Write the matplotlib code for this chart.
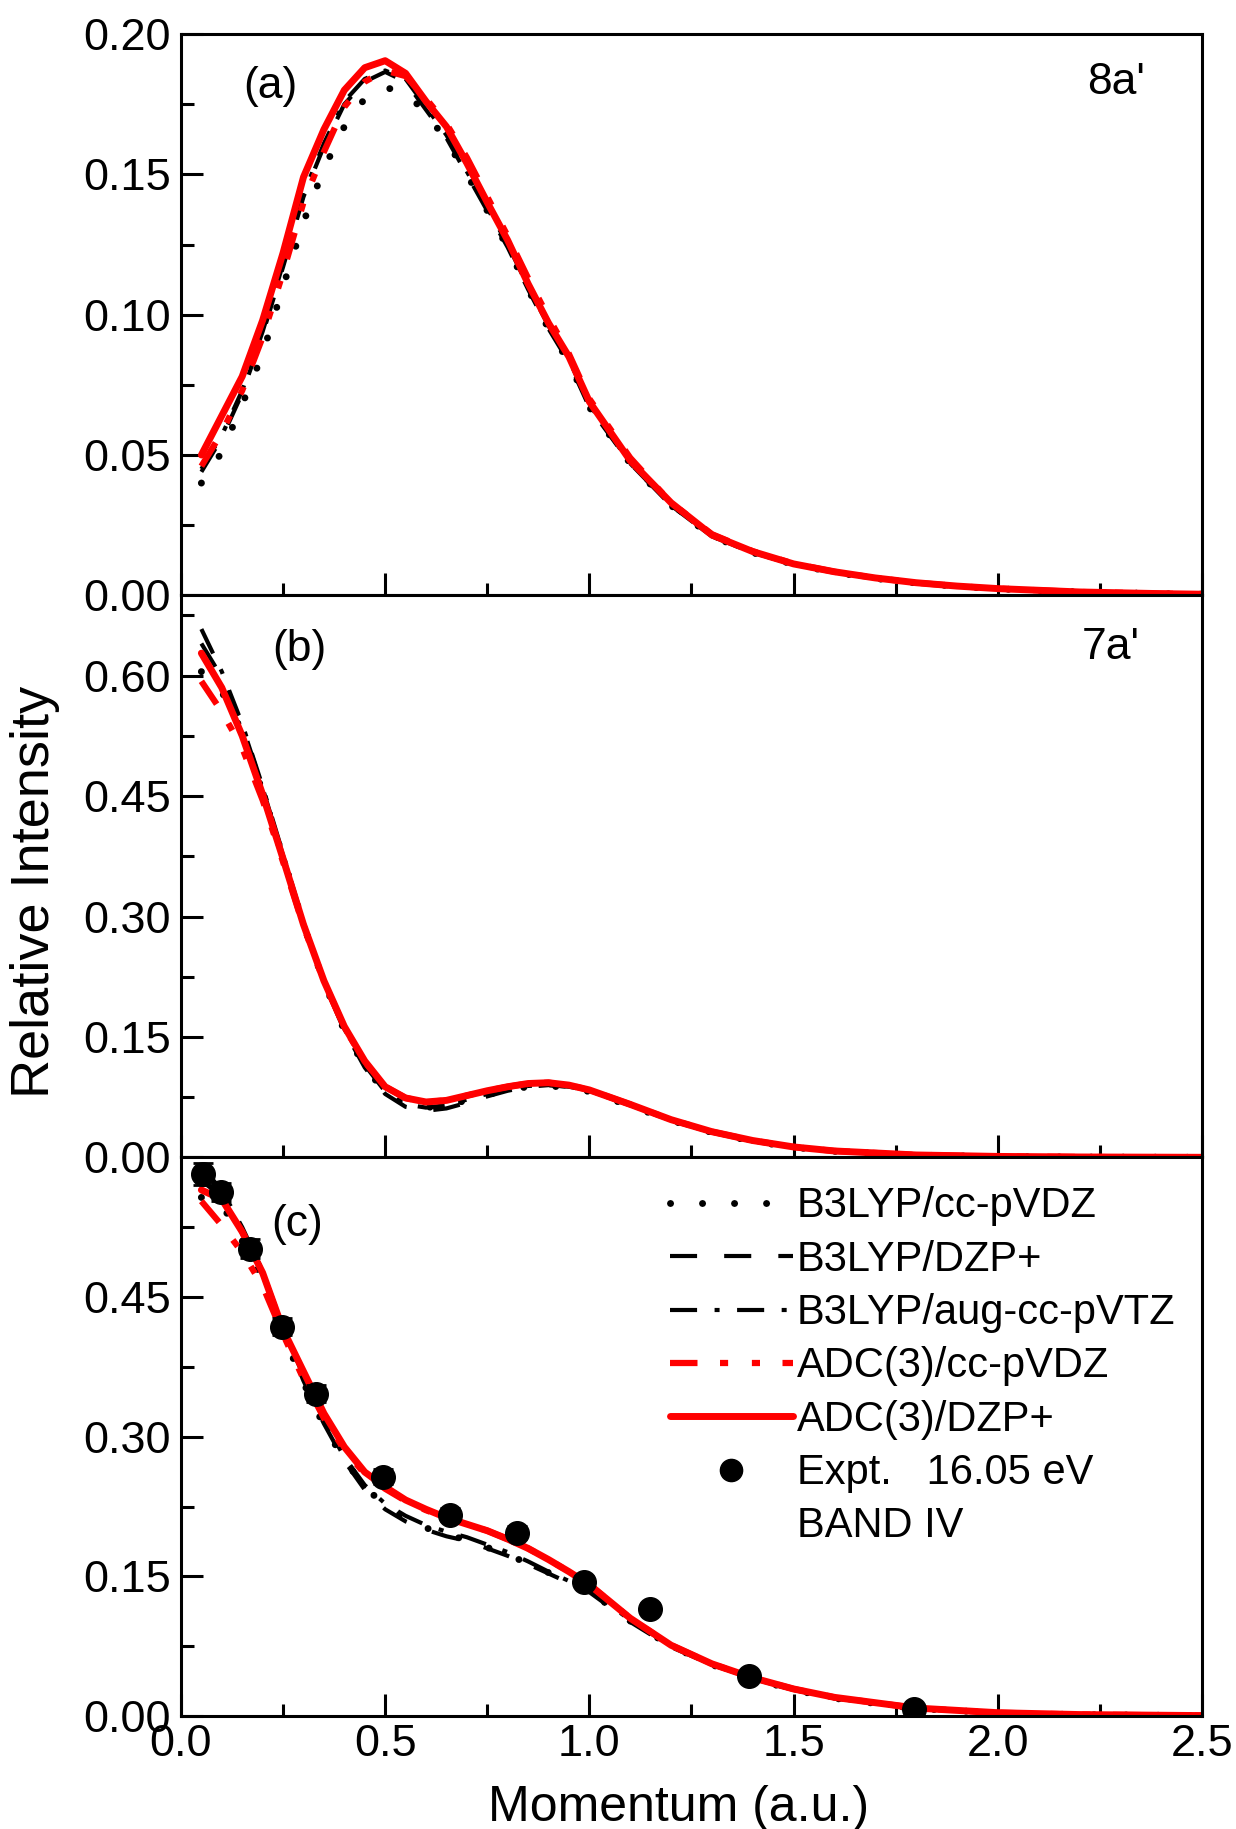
import numpy as np
import matplotlib
matplotlib.use("Agg")
import matplotlib.pyplot as plt
from matplotlib.ticker import MultipleLocator, FormatStrFormatter, FixedLocator
from matplotlib.lines import Line2D

plt.rcParams['font.family'] = ['Liberation Sans', 'DejaVu Sans']

# ---- panel (a) 8a' ----
xa = [0.05, 0.1, 0.15, 0.2, 0.25, 0.3, 0.35, 0.4, 0.45, 0.5, 0.55, 0.6, 0.65, 0.7, 0.75,
      0.8, 0.85, 0.9, 0.95, 1.0, 1.1, 1.2, 1.3, 1.4, 1.5, 1.6, 1.7, 1.8, 1.9, 2.0, 2.2, 2.4, 2.5]
a_b3lyp_vdz = [0.040, 0.051, 0.068, 0.086, 0.110, 0.133, 0.152, 0.167, 0.177, 0.181, 0.179, 0.172, 0.162,
               0.150, 0.137, 0.124, 0.109, 0.095, 0.083, 0.067, 0.047, 0.032, 0.021, 0.0152, 0.011,
               0.0082, 0.006, 0.0044, 0.0032, 0.0023, 0.0012, 0.0006, 0.0004]
a_b3lyp_dzp = [0.044, 0.056, 0.072, 0.093, 0.117, 0.142, 0.160, 0.175, 0.183, 0.1865, 0.183, 0.173, 0.163,
               0.150, 0.137, 0.124, 0.109, 0.095, 0.083, 0.067, 0.047, 0.032, 0.021, 0.0152, 0.011,
               0.0082, 0.006, 0.0044, 0.0032, 0.0023, 0.0012, 0.0006, 0.0004]
a_b3lyp_aug = [0.045, 0.057, 0.073, 0.094, 0.118, 0.143, 0.161, 0.176, 0.184, 0.187, 0.184, 0.174, 0.164,
               0.151, 0.138, 0.125, 0.110, 0.096, 0.084, 0.068, 0.047, 0.032, 0.021, 0.0152, 0.011,
               0.0082, 0.006, 0.0044, 0.0032, 0.0023, 0.0012, 0.0006, 0.0004]
a_adc_vdz = [0.046, 0.058, 0.073, 0.092, 0.115, 0.140, 0.158, 0.174, 0.183, 0.187, 0.185, 0.177, 0.168,
             0.156, 0.142, 0.128, 0.113, 0.099, 0.086, 0.070, 0.049, 0.033, 0.0218, 0.0157, 0.0113,
             0.0084, 0.0062, 0.0045, 0.0033, 0.0024, 0.0012, 0.0006, 0.0004]
a_adc_dzp = [0.050, 0.064, 0.078, 0.098, 0.122, 0.149, 0.166, 0.180, 0.188, 0.1905, 0.186, 0.176, 0.167,
             0.154, 0.140, 0.1265, 0.111, 0.097, 0.085, 0.069, 0.048, 0.033, 0.0215, 0.0156, 0.0112,
             0.0084, 0.0062, 0.0045, 0.0033, 0.0024, 0.0012, 0.0006, 0.0004]

# ---- panel (b) 7a' ----
xb = [0.05, 0.1, 0.15, 0.2, 0.25, 0.3, 0.35, 0.4, 0.45, 0.5, 0.55, 0.6, 0.65, 0.7, 0.75, 0.8,
      0.85, 0.9, 0.95, 1.0, 1.1, 1.2, 1.3, 1.4, 1.5, 1.6, 1.8, 2.0, 2.2, 2.5]
b_b3lyp_vdz = [0.605, 0.580, 0.530, 0.455, 0.374, 0.290, 0.218, 0.158, 0.113, 0.081, 0.066, 0.062, 0.065,
               0.071, 0.078, 0.084, 0.088, 0.089, 0.087, 0.082, 0.064, 0.046, 0.031, 0.020, 0.0125,
               0.0075, 0.0028, 0.0011, 0.0004, 0.0001]
b_b3lyp_dzp = [0.640, 0.598, 0.538, 0.460, 0.376, 0.291, 0.218, 0.158, 0.112, 0.079, 0.063, 0.058, 0.061,
               0.068, 0.076, 0.083, 0.088, 0.090, 0.088, 0.083, 0.065, 0.046, 0.031, 0.020, 0.0125,
               0.0075, 0.0028, 0.0011, 0.0004, 0.0001]
b_b3lyp_aug = [0.658, 0.605, 0.540, 0.462, 0.378, 0.293, 0.220, 0.160, 0.115, 0.082, 0.066, 0.062, 0.065,
               0.072, 0.079, 0.085, 0.089, 0.090, 0.088, 0.083, 0.065, 0.046, 0.031, 0.020, 0.0125,
               0.0075, 0.0028, 0.0011, 0.0004, 0.0001]
b_adc_vdz = [0.593, 0.555, 0.510, 0.445, 0.368, 0.288, 0.219, 0.162, 0.119, 0.088, 0.074, 0.069, 0.071,
             0.077, 0.083, 0.088, 0.092, 0.093, 0.090, 0.084, 0.066, 0.047, 0.032, 0.021, 0.013,
             0.008, 0.003, 0.0012, 0.0005, 0.0001]
b_adc_dzp = [0.628, 0.585, 0.525, 0.452, 0.372, 0.290, 0.220, 0.163, 0.120, 0.088, 0.074, 0.069, 0.071,
             0.077, 0.083, 0.088, 0.092, 0.093, 0.090, 0.084, 0.066, 0.047, 0.032, 0.021, 0.013,
             0.008, 0.003, 0.0012, 0.0005, 0.0001]

# ---- panel (c) band IV ----
xc = [0.05, 0.1, 0.15, 0.2, 0.25, 0.3, 0.35, 0.4, 0.45, 0.5, 0.55, 0.6, 0.65, 0.7, 0.75, 0.8,
      0.85, 0.9, 0.95, 1.0, 1.1, 1.2, 1.3, 1.4, 1.5, 1.6, 1.8, 2.0, 2.2, 2.5]
c_b3lyp_vdz = [0.557, 0.550, 0.510, 0.470, 0.410, 0.358, 0.312, 0.275, 0.246, 0.226, 0.212, 0.202, 0.195,
               0.189, 0.181, 0.173, 0.164, 0.154, 0.144, 0.134, 0.102, 0.075, 0.055, 0.040, 0.028,
               0.019, 0.008, 0.0033, 0.0014, 0.0004]
c_b3lyp_dzp = [0.575, 0.558, 0.518, 0.474, 0.414, 0.360, 0.314, 0.274, 0.243, 0.222, 0.209, 0.200, 0.193,
               0.188, 0.180, 0.172, 0.163, 0.153, 0.143, 0.133, 0.101, 0.074, 0.055, 0.040, 0.028,
               0.019, 0.008, 0.0033, 0.0014, 0.0004]
c_b3lyp_aug = [0.590, 0.565, 0.525, 0.478, 0.418, 0.365, 0.318, 0.278, 0.248, 0.228, 0.215, 0.205, 0.198,
               0.192, 0.184, 0.176, 0.166, 0.155, 0.145, 0.135, 0.103, 0.075, 0.055, 0.040, 0.028,
               0.019, 0.008, 0.0033, 0.0014, 0.0004]
c_adc_vdz = [0.553, 0.527, 0.498, 0.462, 0.410, 0.362, 0.320, 0.286, 0.260, 0.244, 0.231, 0.221, 0.213,
             0.206, 0.199, 0.190, 0.180, 0.168, 0.155, 0.141, 0.105, 0.076, 0.056, 0.041, 0.029,
             0.020, 0.0085, 0.0035, 0.0015, 0.0004]
c_adc_dzp = [0.565, 0.555, 0.520, 0.476, 0.415, 0.370, 0.325, 0.289, 0.262, 0.246, 0.232, 0.222, 0.213,
             0.206, 0.199, 0.190, 0.180, 0.168, 0.155, 0.141, 0.105, 0.076, 0.056, 0.041, 0.029,
             0.020, 0.0085, 0.0035, 0.0015, 0.0004]

# experiment, 16.05 eV band IV
x_exp = [0.055, 0.099, 0.170, 0.247, 0.330, 0.495, 0.659, 0.822, 0.987, 1.148, 1.391, 1.796]
y_exp = [0.582, 0.563, 0.502, 0.418, 0.346, 0.257, 0.216, 0.197, 0.144, 0.115, 0.043, 0.008]
err_exp = [0.012, 0.010, 0.010, 0.009, 0.009, 0.008, 0.007, 0.007, 0.006, 0.006, 0.004, 0.003]

labels = ['B3LYP/cc-pVDZ', 'B3LYP/DZP+', 'B3LYP/aug-cc-pVTZ', 'ADC(3)/cc-pVDZ', 'ADC(3)/DZP+']
styles = [
    dict(color='black', lw=5.0, ls=(0, (0.01, 4.6)), dash_capstyle='round'),
    dict(color='black', lw=3.0, ls=(0, (6.5, 6.5))),
    dict(color='black', lw=3.0, ls=(0, (6.5, 4.2, 1.2, 4.2))),
    dict(color='red', lw=4.5, ls=(0, (4.4, 3.6, 1.3, 3.8, 1.3, 3.6))),
    dict(color='red', lw=5.0, ls='-'),
]

fig = plt.figure(figsize=(12.36, 18.29), dpi=100)
left, width = 0.1464, 0.8261
ax_a = fig.add_axes([left, 0.6745, width, 0.3069])
ax_b = fig.add_axes([left, 0.3672, width, 0.3073])
ax_c = fig.add_axes([left, 0.0618, width, 0.3054])

panels = [
    (ax_a, xa, [a_b3lyp_vdz, a_b3lyp_dzp, a_b3lyp_aug, a_adc_vdz, a_adc_dzp]),
    (ax_b, xb, [b_b3lyp_vdz, b_b3lyp_dzp, b_b3lyp_aug, b_adc_vdz, b_adc_dzp]),
    (ax_c, xc, [c_b3lyp_vdz, c_b3lyp_dzp, c_b3lyp_aug, c_adc_vdz, c_adc_dzp]),
]
handles = []
for ax, x, ys in panels:
    hs = []
    for y, st, lab in zip(ys, styles, labels):
        h, = ax.plot(x, y, label=lab, solid_capstyle='round', **st)
        hs.append(h)
    handles = hs

    ax.set_xlim(0, 2.5)
    ax.xaxis.set_major_locator(MultipleLocator(0.5))
    ax.xaxis.set_minor_locator(MultipleLocator(0.25))
    ax.xaxis.set_major_formatter(FormatStrFormatter('%.1f'))
    ax.yaxis.set_major_formatter(FormatStrFormatter('%.2f'))
    ax.tick_params(which='both', direction='in', top=False, right=False, width=2.2,
                   labelsize=32.5)
    ax.tick_params(axis='y', pad=7)
    ax.tick_params(axis='x', pad=6)
    ax.tick_params(which='major', length=16)
    ax.tick_params(which='minor', length=9)
    for sp in ax.spines.values():
        sp.set_linewidth(2.2)

ax_a.set_ylim(0, 0.20)
ax_a.yaxis.set_major_locator(MultipleLocator(0.05))
ax_a.yaxis.set_minor_locator(MultipleLocator(0.025))

ax_b.set_ylim(0, 0.70)
ax_b.yaxis.set_major_locator(FixedLocator([0, 0.15, 0.30, 0.45, 0.60]))
ax_b.yaxis.set_minor_locator(FixedLocator([0.075, 0.225, 0.375, 0.525, 0.675]))

ax_c.set_ylim(0, 0.60)
ax_c.yaxis.set_major_locator(FixedLocator([0, 0.15, 0.30, 0.45]))
ax_c.yaxis.set_minor_locator(FixedLocator([0.075, 0.225, 0.375, 0.525]))

ax_a.tick_params(labelbottom=False)
ax_b.tick_params(labelbottom=False)

# experimental points
ax_c.errorbar(x_exp, y_exp, yerr=err_exp, fmt='o', color='black', ms=17,
              elinewidth=2, capsize=7, capthick=2, zorder=5)
h_exp = Line2D([], [], ls='none', marker='o', color='black', ms=16)
h_blank = Line2D([], [], ls='none')

ax_c.legend(handles + [h_exp, h_blank],
            labels + ['Expt.   16.05 eV', 'BAND IV'],
            loc='upper left', bbox_to_anchor=(0.479, 0.948), frameon=False,
            fontsize=30, handlelength=2.95, handletextpad=0.1, labelspacing=0.32,
            borderpad=0, borderaxespad=0)

# panel labels
ax_a.text(0.061, 0.907, '(a)', transform=ax_a.transAxes, fontsize=32, va='center')
ax_b.text(0.089, 0.904, '(b)', transform=ax_b.transAxes, fontsize=32, va='center')
ax_c.text(0.088, 0.88, '(c)', transform=ax_c.transAxes, fontsize=32, va='center')
ax_a.text(0.944, 0.893, "8a'", transform=ax_a.transAxes, fontsize=32, va='baseline', ha='right')
ax_b.text(0.939, 0.887, "7a'", transform=ax_b.transAxes, fontsize=32, va='baseline', ha='right')

fig.text(679 / 1236, 1 - 1808 / 1829, 'Momentum (a.u.)', fontsize=36, ha='center', va='center')
fig.text(35 / 1236, 1 - 892 / 1829, 'Relative Intensity', fontsize=39, ha='center', va='center',
         rotation=90)

fig.savefig('out.png', dpi=100)
